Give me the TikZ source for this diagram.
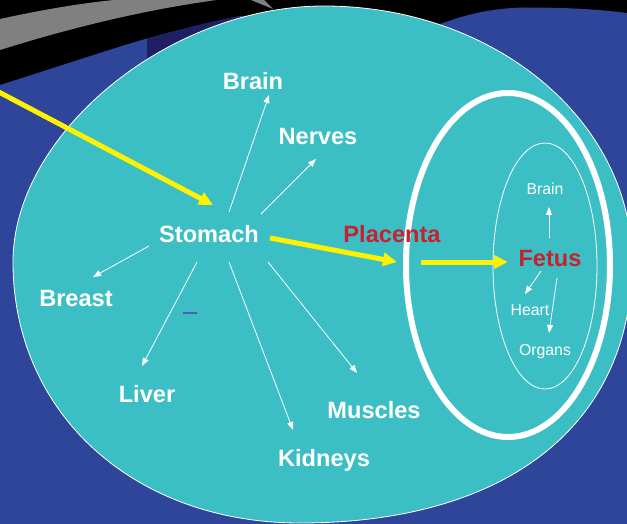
\documentclass[tikz,border=0pt]{standalone}
\usepackage{fontspec}
\setmainfont{Liberation Sans}
\usepackage{xcolor}
\usepackage{tikz}
\usetikzlibrary{arrows.meta}
\definecolor{lagoon}{HTML}{3BBFC4}
\definecolor{deepblue}{HTML}{2E4599}
\definecolor{navy}{HTML}{201F63}
\definecolor{signal}{HTML}{C8202D}
\definecolor{beam}{HTML}{FFF200}
\definecolor{tick}{HTML}{4F5FB5}
\tikzset{
  organ/.style={text=white,font=\bfseries\fontsize{23.6}{28}\selectfont,anchor=base,inner sep=0pt},
  fetal/.style={text=white,font=\fontsize{15.8}{19}\selectfont,anchor=base,inner sep=0pt},
  feed/.style={-{Triangle[length=8pt,width=6pt]},white,line width=0.8pt},
  flow/.style={-{Triangle[length=14pt,width=13pt]},beam,line width=5pt},
}

\begin{document}
\begin{tikzpicture}[x=1pt,y=-1pt]
  \useasboundingbox (0,0) rectangle (627,524);
  \clip (0,0) rectangle (627,524);
  \fill[black] (0,0) rectangle (627,524);
  \fill[deepblue] (0,524) -- (0,85) .. controls (60,66) and (120,46) .. (147,38.5)
    .. controls (175,31) and (205,23) .. (240,16) -- (420,40) -- (440,24)
    .. controls (470,13) and (495,8) .. (525,7.5) .. controls (570,7.5) and (600,9.5) .. (627,13)
    -- (627,524) -- cycle;
  \fill[navy] (147,38.5) .. controls (175,31) and (205,23) .. (240,16) -- (240,80) -- (147,80) -- cycle;
  \fill[gray] (0,19) .. controls (50,8) and (100,0) .. (140,-2) -- (232,-2)
    .. controls (150,8) and (70,28) .. (0,50) -- cycle;
  \fill[gray] (246,-2) -- (262,-2) -- (273,9) -- cycle;
  % body
  \draw[white,line width=0.8pt,fill=lagoon] (13,262) .. controls (13,134) and (168.5,6) .. (324,6)
    .. controls (494,6) and (632,120.7) .. (632,262)
    .. controls (632,424) and (508,523) .. (300,523)
    .. controls (133.5,523) and (13,413) .. cycle;
  \draw[white,line width=6pt] (508,265) ellipse [x radius=102,y radius=172];
  \draw[white,line width=0.8pt] (545,266) ellipse [x radius=52,y radius=123];
  \draw[tick,line width=2pt] (183,313) -- (197,313);

  \node[organ] (stomach) at (209,242) {Stomach};
  \foreach \nm/\txt/\x/\y in {brain/Brain/253/90, nerves/Nerves/318/145, breast/Breast/76/306,
      liver/Liver/147/402, kidneys/Kidneys/324/466, muscles/Muscles/374/418}
    \node[organ] (\nm) at (\x,\y) {\txt};
  \node[organ,text=signal] (placenta) at (392,242) {Placenta};
  \node[organ,text=signal] (fetus) at (550,266) {Fetus};
  \node[fetal] (fbrain) at (545,195) {Brain};
  \node[fetal] (heart) at (530,315) {Heart};
  \node[fetal] (organs) at (545,355) {Organs};

  \foreach \nm/\sx/\sy/\tx/\ty in {brain/20/-30/16/5, nerves/52/-28/-2/14, breast/-60/4/17/-29,
      liver/-12/20/-5/-36, kidneys/20/20/-31/-36, muscles/59/20/-17/-45}
    \draw[feed] ([shift={(\sx,\sy)}]stomach.base) -- ([shift={(\tx,\ty)}]\nm.base);
  \foreach \nm/\sx/\sy/\tx/\ty in {fbrain/-1/-28/4/12, heart/-9/5/-5/-21, organs/7/12/4/-22}
    \draw[feed] ([shift={(\sx,\sy)}]fetus.base) -- ([shift={(\tx,\ty)}]\nm.base);

  \coordinate (inflow) at (-5,90);
  \draw[flow] (inflow) -- ([shift={(4,-37)}]stomach.base);
  \draw[flow] ([shift={(61,-4)}]stomach.base) -- ([shift={(5,20)}]placenta.base);
  \draw[flow] ([shift={(29,20)}]placenta.base) -- ([shift={(-42,-4)}]fetus.base);
\end{tikzpicture}
\end{document}
